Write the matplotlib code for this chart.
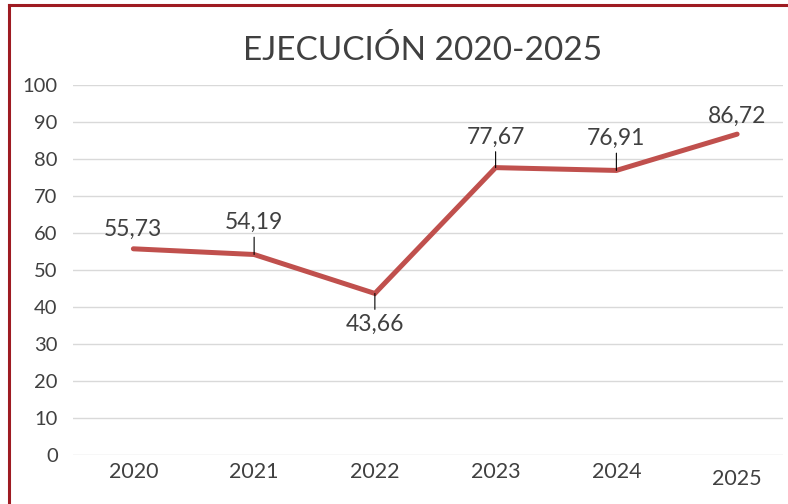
import matplotlib.pyplot as plt
from matplotlib.lines import Line2D

# Data
years = ["2020", "2021", "2022", "2023", "2024", "2025"]
ejecucion = [55.73, 54.19, 43.66, 77.67, 76.91, 86.72]
labels = ["55,73", "54,19", "43,66", "77,67", "76,91", "86,72"]

# label offsets (points) and whether a leader line is drawn
label_dy = [14, 23, -22, 22, 23, 13]
leader = [False, True, True, True, True, False]

plt.rcParams['font.family'] = ['Lato', 'DejaVu Sans']
text_color = "#404040"

fig = plt.figure(figsize=(7.88, 5.04), dpi=100)
ax = fig.add_axes([73 / 788, 49 / 504, 710 / 788, 370 / 504])

x = list(range(len(years)))
ax.plot(x, ejecucion, color="#C0504D", lw=3.6, solid_capstyle="round",
        solid_joinstyle="miter", zorder=3)

for xi, v, lab, dy, ld in zip(x, ejecucion, labels, label_dy, leader):
    props = dict(arrowstyle="-", color="black", lw=0.8, shrinkA=1, shrinkB=0) if ld else None
    ax.annotate(lab, xy=(xi, v), xytext=(0, dy), textcoords="offset points",
                ha="center", va="center", fontsize=16.5, color=text_color,
                arrowprops=props, zorder=4)

ax.set_ylim(0, 100)
ax.set_yticks(range(0, 101, 10))
ax.set_xlim(-0.5, 5.38)
ax.set_xticks(x)
ax.set_xticklabels(years)
ax.grid(axis="y", color="#D9D9D9", lw=1)
ax.set_axisbelow(True)
for s in ax.spines.values():
    s.set_visible(False)
ax.tick_params(axis="y", length=0, labelsize=14.5, labelcolor=text_color, pad=11)
ax.tick_params(axis="x", length=0, labelsize=15.5, labelcolor=text_color, pad=5)
# last year label sits a little lower in the original
ax.get_xticklabels()[-1].set_y(-0.018)

fig.text(423 / 788, 1 - 50 / 504, "EJECUCIÓN 2020-2025", ha="center", va="center",
         fontsize=24, color=text_color)

# dark red frame (left and top edges)
border = "#9E1B22"
fig.add_artist(Line2D([9 / 788, 9 / 788], [0, 1 - 5 / 504], color=border, lw=2.2,
                      transform=fig.transFigure))
fig.add_artist(Line2D([9 / 788, 1], [1 - 5 / 504, 1 - 5 / 504], color=border, lw=2.2,
                      transform=fig.transFigure))

fig.savefig("out.png", dpi=100)
